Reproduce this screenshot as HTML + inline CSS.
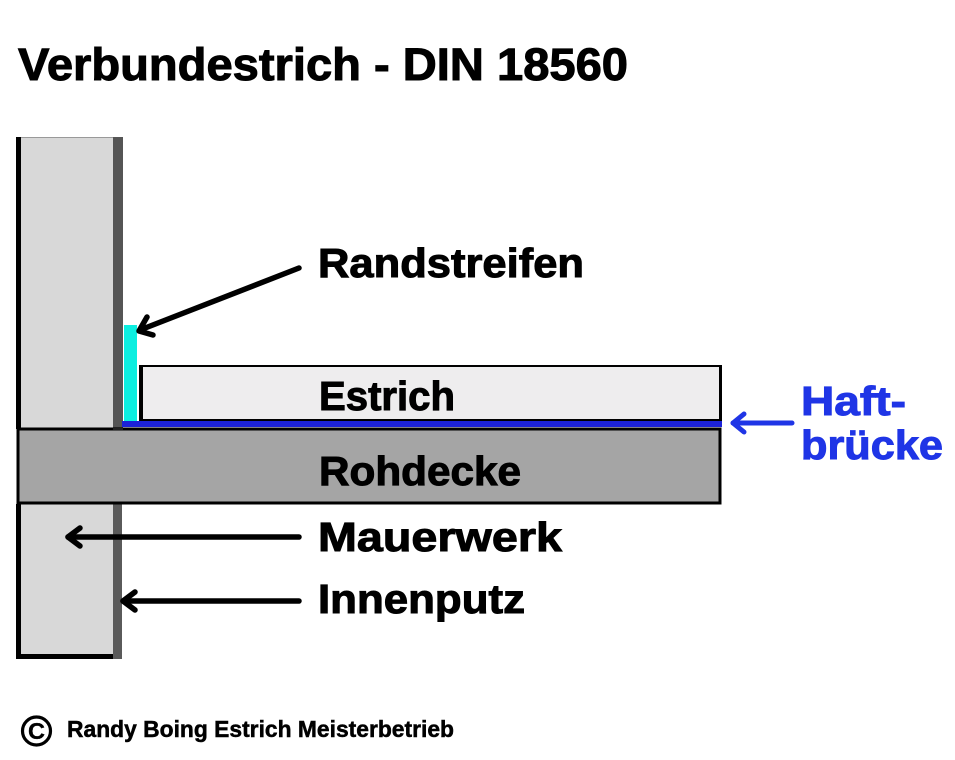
<!DOCTYPE html>
<html><head><meta charset="utf-8"><style>
html,body{margin:0;padding:0;background:#fff;width:955px;height:760px;overflow:hidden}
svg{display:block}
text{font-family:"Liberation Sans",sans-serif;font-weight:700;fill:#000;stroke:#000;stroke-width:1px}
</style></head><body>
<svg width="955" height="760" viewBox="0 0 955 760" xmlns="http://www.w3.org/2000/svg">
<rect width="955" height="760" fill="#fff"/>
<text x="18" y="80" font-size="45" textLength="610" lengthAdjust="spacingAndGlyphs">Verbundestrich - DIN 18560</text>
<!-- upper wall -->
<rect x="21" y="137" width="92" height="292" fill="#d8d8d8"/>
<rect x="16" y="137" width="5" height="292" fill="#000"/>
<rect x="113" y="137" width="10" height="292" fill="#555"/>
<rect x="21" y="137" width="92" height="1" fill="#999"/>
<!-- lower wall -->
<rect x="21" y="504" width="92" height="151" fill="#d8d8d8"/>
<rect x="16" y="504" width="5" height="155" fill="#000"/>
<rect x="16" y="654" width="97" height="5" fill="#000"/>
<rect x="113" y="504" width="9" height="155" fill="#5a5a5a"/>
<!-- Randstreifen -->
<rect x="124" y="325" width="13" height="98" fill="#0ceee0"/>
<!-- Estrich -->
<rect x="139" y="365" width="583" height="57" fill="#000"/>
<rect x="143" y="367" width="576" height="52" fill="#eeedee"/>
<!-- Haftbruecke -->
<rect x="122" y="421" width="600" height="6" fill="#1c22d8"/>
<!-- Rohdecke -->
<rect x="18" y="429" width="702" height="74" fill="#a5a5a5" stroke="#000" stroke-width="3"/>
<rect x="113" y="427" width="10" height="3" fill="#222"/>
<!-- arrows -->
<g fill="none" stroke="#000" stroke-width="5.5" stroke-linecap="round" stroke-linejoin="round">
<path d="M299 268 L140 330"/><path d="M147 317 L139 331 L153 335"/>
<path d="M299 537 L68 537"/><path d="M80 528 L68 537 L80 546"/>
<path d="M299 601 L123 601"/><path d="M135 592 L123 601 L135 610"/>
</g>
<g fill="none" stroke="#1f35e6" stroke-width="5" stroke-linecap="round" stroke-linejoin="round">
<path d="M792 423 L733 423"/><path d="M744 414 L733 423 L744 432"/>
</g>
<!-- labels -->
<text x="318" y="277" font-size="41" textLength="266" lengthAdjust="spacingAndGlyphs">Randstreifen</text>
<text x="319" y="410" font-size="41" textLength="136" lengthAdjust="spacingAndGlyphs">Estrich</text>
<text x="319" y="485" font-size="41" textLength="202" lengthAdjust="spacingAndGlyphs">Rohdecke</text>
<text x="318" y="551" font-size="41" textLength="244" lengthAdjust="spacingAndGlyphs">Mauerwerk</text>
<text x="318" y="613" font-size="41" textLength="207" lengthAdjust="spacingAndGlyphs">Innenputz</text>
<text x="801" y="415" font-size="41" textLength="105" lengthAdjust="spacingAndGlyphs" style="fill:#1f35e6;stroke:#1f35e6">Haft-</text>
<text x="801" y="459" font-size="41" textLength="142" lengthAdjust="spacingAndGlyphs" style="fill:#1f35e6;stroke:#1f35e6">brücke</text>
<!-- footer -->
<circle cx="36.5" cy="731" r="14" fill="none" stroke="#000" stroke-width="3.2"/>
<text x="28" y="739" font-size="23" textLength="17" lengthAdjust="spacingAndGlyphs" style="stroke-width:.3px">C</text>
<text x="67" y="737" font-size="23" textLength="387" lengthAdjust="spacingAndGlyphs" style="stroke-width:.5px">Randy Boing Estrich Meisterbetrieb</text>
</svg>
</body></html>
